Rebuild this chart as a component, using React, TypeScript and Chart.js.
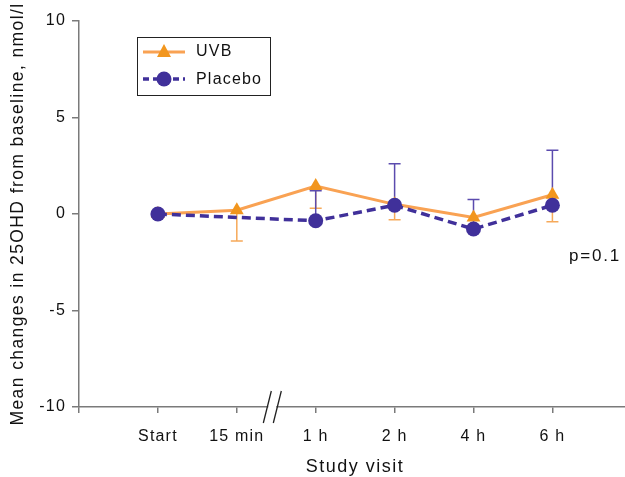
import React, { useEffect, useRef } from "react";
import { Chart, registerables } from "chart.js";

Chart.register(...registerables);

const categories = ["Start", "15 min", "1 h", "2 h", "4 h", "6 h"];
const xPositions = [1, 2, 3, 4, 5, 6];
const uvb = [0, 0.2, 1.45, 0.5, -0.18, 1.0];
const placebo = [0, null, -0.35, 0.45, -0.78, 0.45];
const uvbErrLow = [null, -1.4, 0.3, -0.3, null, -0.4];
const placeboErrHigh = [null, null, 1.2, 2.6, 0.75, 3.3];
const yTicks = [-10, -5, 0, 5, 10];
const xTitle = "Study visit";
const yTitle = "Mean changes in 25OHD from baseline, nmol/l";
const pText = "p=0.1";
const seriesNames = ["UVB", "Placebo"];

const X_MAX = 6.92;
const FONT = "'Liberation Sans', Arial, sans-serif";
const ORANGE_LINE = "#F9A253";
const ORANGE_MARK = "#F2961E";
const PURPLE = "#40309A";
const PURPLE_ERR = "#5B4BAE";
const ORANGE_ERR = "#F6A95A";
const AXIS = "#7a7a7a";

const extras = {
  id: "extras",
  beforeDraw(chart: any) {
    chart.ctx.letterSpacing = "1.2px";
  },
  beforeDatasetsDraw(chart: any) {
    const ctx = chart.ctx;
    const xs = chart.scales.x;
    const ys = chart.scales.y;
    const drawBars = (vals: any[], ends: any[], color: string) => {
      ctx.save();
      ctx.strokeStyle = color;
      ctx.lineWidth = 1.5;
      for (let i = 0; i < vals.length; i++) {
        if (vals[i] == null || ends[i] == null) continue;
        const x = xs.getPixelForValue(xPositions[i]);
        const y0 = ys.getPixelForValue(vals[i]);
        const y1 = ys.getPixelForValue(ends[i]);
        ctx.beginPath();
        ctx.moveTo(x, y0);
        ctx.lineTo(x, y1);
        ctx.moveTo(x - 6, y1);
        ctx.lineTo(x + 6, y1);
        ctx.stroke();
      }
      ctx.restore();
    };
    drawBars(uvb, uvbErrLow, ORANGE_ERR);
    drawBars(placebo, placeboErrHigh, PURPLE_ERR);
  },
  afterDraw(chart: any) {
    const ctx = chart.ctx;
    const xs = chart.scales.x;
    const area = chart.chartArea;
    ctx.save();
    // axis break
    const bx = xs.getPixelForValue(2.45);
    const by = area.bottom;
    ctx.fillStyle = "#fff";
    ctx.fillRect(bx - 4, by - 3, 8, 6);
    ctx.strokeStyle = "#222";
    ctx.lineWidth = 1.3;
    ctx.beginPath();
    ctx.moveTo(bx - 9, by + 16);
    ctx.lineTo(bx - 1, by - 16);
    ctx.moveTo(bx + 1, by + 16);
    ctx.lineTo(bx + 9, by - 16);
    ctx.stroke();

    // titles
    ctx.fillStyle = "#111";
    ctx.letterSpacing = "1.5px";
    ctx.font = `18px ${FONT}`;
    ctx.textAlign = "center";
    ctx.textBaseline = "middle";
    ctx.fillText(xTitle, 355, 467);
    ctx.save();
    ctx.letterSpacing = "1.4px";
    ctx.font = `17.5px ${FONT}`;
    ctx.translate(18, (area.top + area.bottom) / 2);
    ctx.rotate(-Math.PI / 2);
    ctx.fillText(yTitle, 0, 0);
    ctx.restore();

    // p value
    ctx.letterSpacing = "1.8px";
    ctx.font = `17px ${FONT}`;
    ctx.textAlign = "left";
    ctx.fillText(pText, 569, 256);

    // legend
    ctx.letterSpacing = "1.2px";
    ctx.strokeStyle = "#222";
    ctx.lineWidth = 1;
    ctx.strokeRect(137.5, 37.5, 133, 58);
    ctx.lineWidth = 3;
    ctx.strokeStyle = ORANGE_LINE;
    ctx.beginPath();
    ctx.moveTo(143, 52);
    ctx.lineTo(185, 52);
    ctx.stroke();
    ctx.fillStyle = ORANGE_MARK;
    ctx.beginPath();
    ctx.moveTo(164, 44);
    ctx.lineTo(171, 57);
    ctx.lineTo(157, 57);
    ctx.closePath();
    ctx.fill();
    ctx.strokeStyle = PURPLE;
    ctx.lineWidth = 3.5;
    ctx.setLineDash([6, 4]);
    ctx.beginPath();
    ctx.moveTo(143, 79);
    ctx.lineTo(185, 79);
    ctx.stroke();
    ctx.setLineDash([]);
    ctx.fillStyle = PURPLE;
    ctx.beginPath();
    ctx.arc(164, 79, 7.5, 0, Math.PI * 2);
    ctx.fill();
    ctx.fillStyle = "#111";
    ctx.font = `16px ${FONT}`;
    ctx.textAlign = "left";
    ctx.fillText(seriesNames[0], 196, 52);
    ctx.fillText(seriesNames[1], 196, 80);
    ctx.restore();
  },
};

export default function App() {
  const ref = useRef<HTMLCanvasElement>(null);
  useEffect(() => {
    if (!ref.current) return;
    const chart = new Chart(ref.current, {
      type: "line",
      data: {
        datasets: [
          {
            label: seriesNames[1],
            data: xPositions.map((x, i) => ({ x, y: placebo[i] })) as any,
            borderColor: PURPLE,
            backgroundColor: PURPLE,
            borderWidth: 3.5,
            borderDash: [9, 5],
            pointStyle: "circle",
            pointRadius: 7.5,
            pointBorderWidth: 0,
            spanGaps: true,
            order: 0,
          },
          {
            label: seriesNames[0],
            data: xPositions.map((x, i) => ({ x, y: uvb[i] })) as any,
            borderColor: ORANGE_LINE,
            backgroundColor: ORANGE_MARK,
            borderWidth: 3,
            pointStyle: "triangle",
            pointRadius: 8,
            pointBorderWidth: 0,
            order: 1,
          },
        ],
      },
      options: {
        animation: false,
        responsive: false,
        devicePixelRatio: 1,
        layout: {
          autoPadding: false,
          padding: { top: 21, left: 0, right: 0, bottom: 0 },
        },
        plugins: { legend: { display: false }, tooltip: { enabled: false } },
        scales: {
          x: {
            type: "linear",
            min: 0,
            max: X_MAX,
            afterBuildTicks: (s: any) => {
              s.ticks = [0, ...xPositions, X_MAX].map((v) => ({ value: v }));
            },
            afterFit: (s: any) => {
              s.height = 70;
              s.paddingLeft = 0;
              s.paddingRight = 0;
            },
            grid: {
              drawOnChartArea: false,
              drawTicks: true,
              tickLength: 6,
              color: (c: any) =>
                c.tick && c.tick.value === X_MAX ? "rgba(0,0,0,0)" : AXIS,
              lineWidth: 1.5,
            },
            border: { color: AXIS, width: 1.5 },
            ticks: {
              autoSkip: false,
              maxRotation: 0,
              padding: 14,
              color: "#111",
              font: { family: FONT, size: 16 },
              callback: (v: any) => {
                const i = xPositions.indexOf(Number(v));
                return i >= 0 ? categories[i] : "";
              },
            },
          },
          y: {
            min: -10,
            max: 10,
            afterBuildTicks: (s: any) => {
              s.ticks = yTicks.map((v) => ({ value: v }));
            },
            afterFit: (s: any) => {
              s.width = 79;
            },
            grid: {
              drawOnChartArea: false,
              drawTicks: true,
              tickLength: 7,
              color: AXIS,
              lineWidth: 1.5,
            },
            border: { color: AXIS, width: 1.5 },
            ticks: {
              padding: 6,
              color: "#111",
              font: { family: FONT, size: 16 },
            },
          },
        },
      },
      plugins: [extras],
    } as any);
    return () => chart.destroy();
  }, []);
  return (
    <div style={{ position: "fixed", left: 0, top: 0, width: 625, height: 477 }}>
      <canvas ref={ref} width={625} height={477} />
    </div>
  );
}
